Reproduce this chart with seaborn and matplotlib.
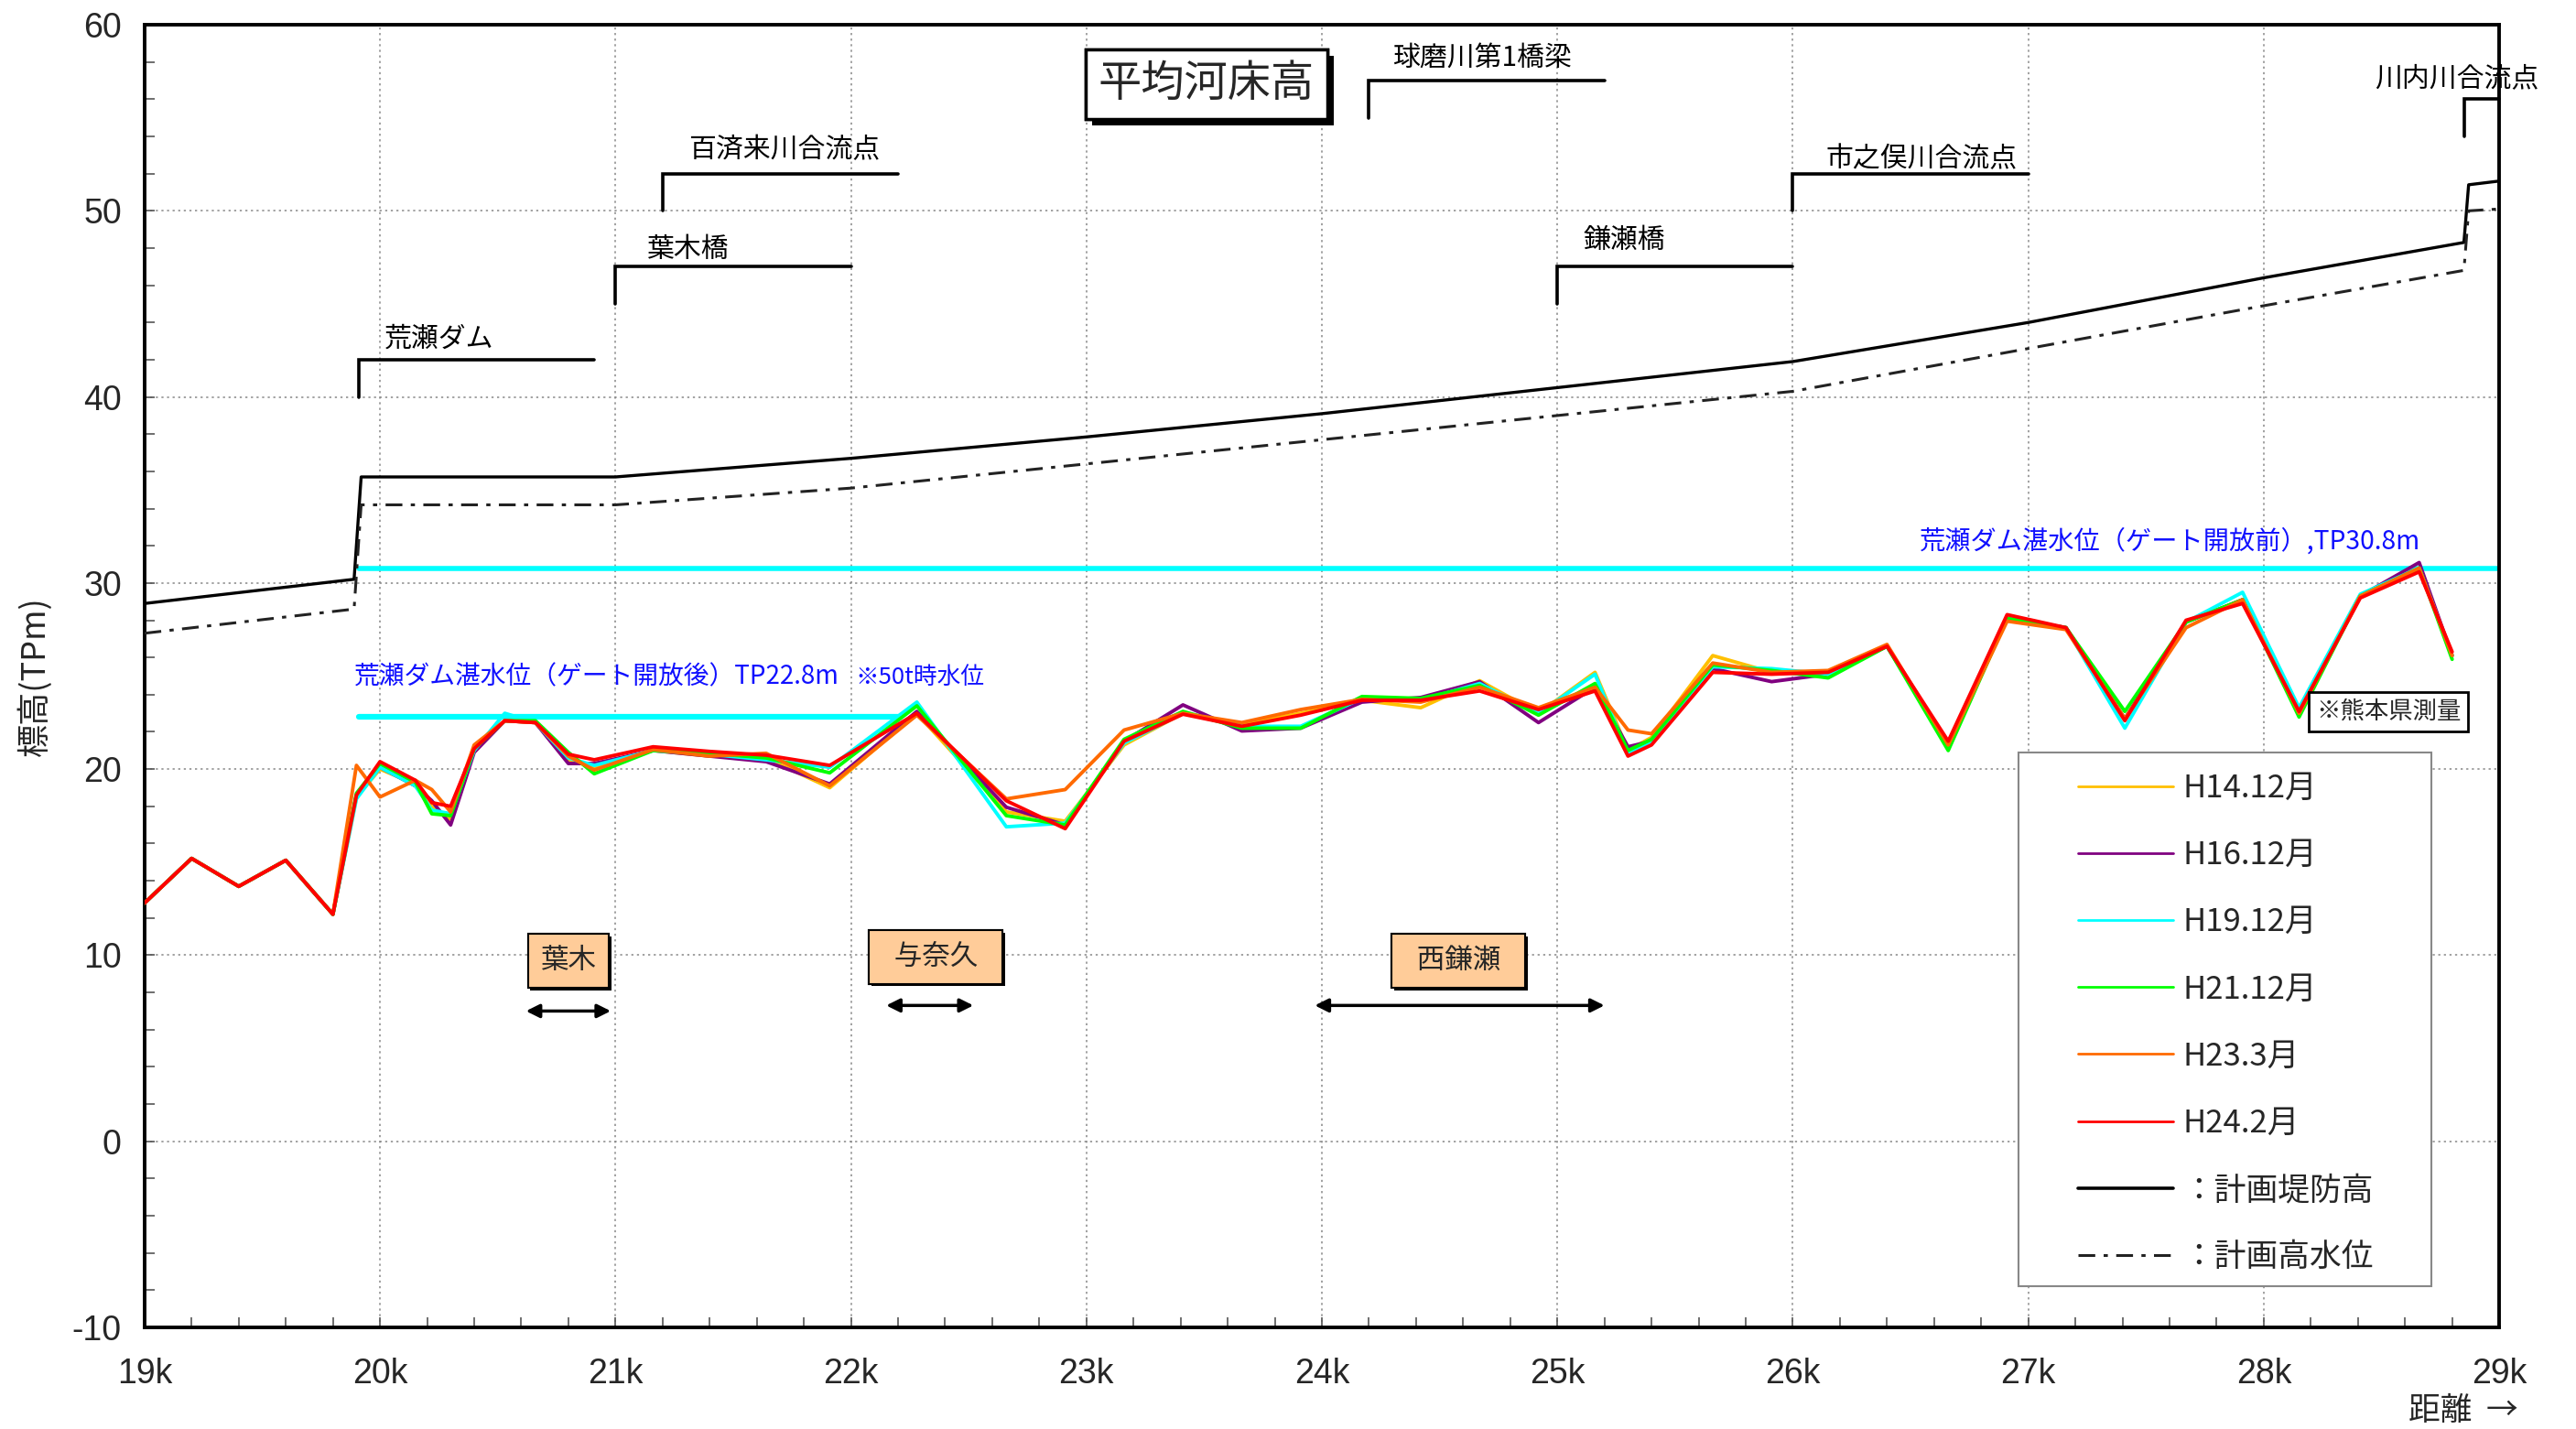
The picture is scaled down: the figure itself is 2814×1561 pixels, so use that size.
import matplotlib
matplotlib.use("Agg")
import matplotlib.pyplot as plt
import matplotlib.patheffects as pe
from matplotlib import font_manager
from matplotlib.lines import Line2D
from matplotlib.patches import Rectangle
from matplotlib.ticker import MultipleLocator, FuncFormatter
import seaborn as sns
import pandas as pd

# survey sections (km) and mean bed elevation (TPm) per survey
dist = [19.0, 19.2, 19.4, 19.6, 19.8, 19.9, 20.0, 20.15, 20.22, 20.3, 20.4, 20.53, 20.66,
        20.8, 20.91, 21.16, 21.4, 21.64, 21.91, 22.28, 22.66, 22.91, 23.16, 23.41, 23.66,
        23.91, 24.17, 24.42, 24.67, 24.92, 25.16, 25.3, 25.4, 25.66, 25.91, 26.15, 26.4,
        26.66, 26.91, 27.16, 27.41, 27.67, 27.91, 28.15, 28.41, 28.66, 28.8]
h14 = [12.8, 15.2, 13.7, 15.1, 12.2, 18.5, 20.0, 19.2, 18.0, 17.3, 21.0, 22.6, 22.5,
       20.5, 20.1, 21.0, 20.7, 20.6, 19.0, 23.0, 17.7, 17.2, 21.3, 23.0, 22.4,
       23.0, 23.7, 23.3, 24.75, 23.0, 25.2, 21.0, 21.7, 26.1, 25.2, 25.2, 26.6,
       21.3, 28.1, 27.6, 22.7, 27.9, 29.1, 23.0, 29.3, 30.8, 26.1]
h16 = [12.8, 15.2, 13.7, 15.1, 12.2, 18.6, 20.1, 19.1, 18.3, 17.0, 20.9, 22.6, 22.5,
       20.3, 20.3, 21.0, 20.7, 20.4, 19.2, 23.1, 17.95, 17.0, 21.5, 23.45, 22.05,
       22.2, 23.6, 23.85, 24.7, 22.5, 24.4, 21.2, 21.5, 25.4, 24.7, 25.1, 26.6,
       21.3, 28.1, 27.6, 22.7, 27.9, 29.1, 23.0, 29.3, 31.1, 26.1]
h19 = [12.8, 15.2, 13.7, 15.1, 12.2, 18.4, 20.1, 19.1, 17.8, 17.6, 21.0, 23.0, 22.5,
       20.6, 20.2, 21.0, 20.8, 20.5, 20.1, 23.6, 16.9, 17.1, 21.4, 23.0, 22.3,
       22.3, 23.8, 23.7, 24.6, 23.0, 25.1, 20.8, 21.5, 25.5, 25.4, 25.1, 26.6,
       21.3, 28.1, 27.6, 22.2, 27.9, 29.5, 23.3, 29.4, 30.8, 26.1]
h21 = [12.8, 15.2, 13.7, 15.1, 12.2, 18.7, 20.3, 19.3, 17.6, 17.5, 21.1, 22.6, 22.6,
       20.9, 19.75, 21.0, 20.85, 20.6, 19.8, 23.4, 17.5, 17.0, 21.6, 23.1, 22.2,
       22.2, 23.9, 23.8, 24.5, 22.9, 24.6, 21.0, 21.6, 25.6, 25.3, 24.9, 26.6,
       21.0, 28.1, 27.6, 23.1, 27.9, 29.1, 22.8, 29.3, 30.8, 25.9]
h23 = [12.8, 15.2, 13.7, 15.1, 12.2, 20.2, 18.5, 19.4, 18.9, 17.7, 21.3, 22.6, 22.5,
       20.7, 19.95, 21.05, 20.7, 20.85, 19.1, 22.9, 18.4, 18.9, 22.1, 23.0, 22.5,
       23.2, 23.75, 23.6, 24.4, 23.3, 24.4, 22.1, 21.9, 25.7, 25.2, 25.3, 26.7,
       21.3, 27.95, 27.5, 22.7, 27.6, 29.1, 23.0, 29.3, 30.8, 26.1]
h24 = [12.8, 15.2, 13.7, 15.1, 12.2, 18.6, 20.4, 19.4, 18.2, 18.0, 21.1, 22.6, 22.5,
       20.8, 20.5, 21.2, 20.95, 20.75, 20.2, 23.0, 18.3, 16.8, 21.5, 22.95, 22.3,
       22.9, 23.7, 23.7, 24.2, 23.2, 24.2, 20.7, 21.3, 25.2, 25.1, 25.2, 26.6,
       21.5, 28.3, 27.6, 22.6, 28.0, 28.9, 23.1, 29.2, 30.6, 26.3]

surveys = ["H14.12月", "H16.12月", "H19.12月", "H21.12月", "H23.3月", "H24.2月"]
colors = ["#FFC000", "#800080", "#00FFFF", "#00FF00", "#FF6A00", "#FF0000"]

# planned levee crown and planned high water level
plan_x = [19.0, 19.89, 19.92, 21.0, 22.0, 23.0, 24.0, 25.0, 26.0, 27.0, 28.0, 28.85, 28.87, 29.0]
levee = [28.9, 30.2, 35.7, 35.7, 36.7, 37.85, 39.1, 40.5, 41.9, 44.0, 46.4, 48.3, 51.4, 51.6]
hwl = [27.3, 28.6, 34.2, 34.2, 35.1, 36.4, 37.7, 39.0, 40.3, 42.6, 44.9, 46.8, 50.0, 50.1]

# reservoir water levels
wl_after = 22.8
wl_before = 30.8

# landmarks: name, x, bracket bottom, bracket top, bracket end, label x, label y
landmarks = [
    ("荒瀬ダム", 19.91, 40.0, 42.0, 20.91, 20.02, 43.1),
    ("葉木橋", 21.0, 45.0, 47.0, 22.0, 21.13, 47.9),
    ("百済来川合流点", 21.2, 50.0, 52.0, 22.2, 21.31, 53.3),
    ("球磨川第1橋梁", 24.2, 55.0, 57.0, 25.2, 24.3, 58.2),
    ("鎌瀬橋", 25.0, 45.0, 47.0, 26.0, 25.11, 48.4),
    ("市之俣川合流点", 26.0, 50.0, 52.0, 27.0, 26.14, 52.8),
    ("川内川合流点", 28.85, 54.0, 56.0, 29.0, 28.47, 57.1),
]

# reaches: name, label x, label y, arrow start, arrow end, arrow y
reaches = [
    ("葉木", 20.8, 9.7, 20.62, 20.98, 7.0),
    ("  与奈久  ", 22.36, 9.9, 22.15, 22.52, 7.3),
    ("  西鎌瀬  ", 24.58, 9.7, 23.97, 25.2, 7.3),
]

sns.set_theme(style="white")
plt.rcParams['font.family'] = ['Noto Sans CJK JP', 'DejaVu Sans']
plt.rcParams['axes.unicode_minus'] = False

names = {f.name for f in font_manager.fontManager.ttflist}
tick_font = 'Liberation Sans Narrow' if 'Liberation Sans Narrow' in names else 'Liberation Sans'

fig = plt.figure(figsize=(28.14, 15.61), dpi=100)
ax = fig.add_axes([0.0561, 0.0711, 0.9141, 0.9116])

rows = []
for name, vals in zip(surveys, [h14, h16, h19, h21, h23, h24]):
    for d, v in zip(dist, vals):
        rows.append({"dist": d, "elev": v, "survey": name})
df = pd.DataFrame(rows)

sns.lineplot(data=df, x="dist", y="elev", hue="survey", hue_order=surveys,
             palette=colors, estimator=None, sort=False, lw=2.8, legend=False,
             ax=ax, zorder=3)

ax.plot(plan_x, levee, color="black", lw=2.4, zorder=3)
ax.plot(plan_x, hwl, color="#222222", lw=2.2, linestyle=(0, (6, 3, 1.5, 3)), zorder=3)

ax.plot([19.91, 22.2], [wl_after, wl_after], color="#00FFFF", lw=4.5, zorder=2.5,
        solid_capstyle="round")
ax.plot([19.91, 29.0], [wl_before, wl_before], color="#00FFFF", lw=4, zorder=2.5)

ax.text(19.89, 24.95, "荒瀬ダム湛水位（ゲート開放後）TP22.8m", color="#1010FF",
        fontsize=20, ha="left", va="center")
ax.text(22.02, 24.95, "※50t時水位", color="#1010FF", fontsize=18.5, ha="left", va="center")
ax.text(26.54, 32.25, "荒瀬ダム湛水位（ゲート開放前）,TP30.8m", color="#1010FF",
        fontsize=20.3, ha="left", va="center")

for name, x0, y0, y1, x1, tx, ty in landmarks:
    ax.plot([x0, x0, x1], [y0, y1, y1], color="black", lw=2.6, zorder=4,
            solid_joinstyle="miter", clip_on=False)
    ax.text(tx, ty, name, fontsize=21.5, ha="left", va="center", color="black")

title = ax.text(23.51, 56.8, "平均河床高", fontsize=34, ha="center", va="center",
                bbox=dict(boxstyle="square,pad=0.3", facecolor="white",
                          edgecolor="black", lw=2.5), zorder=6)
title.get_bbox_patch().set_path_effects(
    [pe.withSimplePatchShadow(offset=(5, -5), shadow_rgbFace="black", alpha=1.0),
     pe.Normal()])

for name, tx, ty, a0, a1, ay in reaches:
    t = ax.text(tx, ty, name, fontsize=22, ha="center", va="center", zorder=6,
                bbox=dict(boxstyle="square,pad=0.45", facecolor="#FFCC99",
                          edgecolor="black", lw=1.5))
    t.get_bbox_patch().set_path_effects(
        [pe.withSimplePatchShadow(offset=(2, -2), shadow_rgbFace="black", alpha=1.0),
         pe.Normal()])
    ax.annotate("", xy=(a0, ay), xytext=(a1, ay),
                arrowprops=dict(arrowstyle="<|-|>", color="black", lw=2.5,
                                mutation_scale=22, shrinkA=0, shrinkB=0))

ax.text(28.53, 23.1, "※熊本県測量", fontsize=19, ha="center", va="center", zorder=6,
        bbox=dict(boxstyle="square,pad=0.3", facecolor="white", edgecolor="black", lw=2))

ax.set_xlim(19, 29)
ax.set_ylim(-10, 60)
ax.xaxis.set_major_locator(MultipleLocator(1))
ax.xaxis.set_minor_locator(MultipleLocator(0.2))
ax.yaxis.set_major_locator(MultipleLocator(10))
ax.yaxis.set_minor_locator(MultipleLocator(2))
ax.xaxis.set_major_formatter(FuncFormatter(lambda v, p: f"{int(round(v))}k"))
ax.tick_params(axis="both", which="both", direction="in", length=8, width=1.2,
               color="#555555", bottom=True, left=True, top=False, right=False)
ax.tick_params(axis="x", which="major", pad=24, labelsize=27)
ax.tick_params(axis="y", which="major", pad=18, labelsize=27)
for lab in ax.get_xticklabels() + ax.get_yticklabels():
    lab.set_fontfamily(tick_font)

ax.grid(True, which="major", color="#888888", linestyle=(0, (1.5, 2.5)), lw=1.1)
for sp in ax.spines.values():
    sp.set_color("black")
    sp.set_linewidth(2.8)

ax.set_xlabel("")
ax.set_ylabel("標高(TPm)", fontsize=26, labelpad=16)
ax.text(0.9615, -0.064, "距離  →", transform=ax.transAxes, fontsize=25,
        ha="left", va="center")

# legend with square grey frame
ax.add_patch(Rectangle((0.796, 0.0316), 0.175, 0.41, transform=ax.transAxes,
                       facecolor="white", edgecolor="#888888", lw=1.5, zorder=7))
handles = [Line2D([], [], color=c, lw=2) for c in colors]
handles.append(Line2D([], [], color="black", lw=2.6))
handles.append(Line2D([], [], color="#222222", lw=2.2, linestyle=(0, (6, 3, 1.5, 3))))
labels = surveys + ["：計画堤防高", "：計画高水位"]
leg = ax.legend(handles, labels, loc="upper left", bbox_to_anchor=(0.821, 0.426),
                frameon=False, fontsize=25, handlelength=3.0, handletextpad=0.3,
                labelspacing=1.1, borderpad=0, borderaxespad=0)
leg.set_zorder(8)

fig.savefig("out.png", dpi=100)
